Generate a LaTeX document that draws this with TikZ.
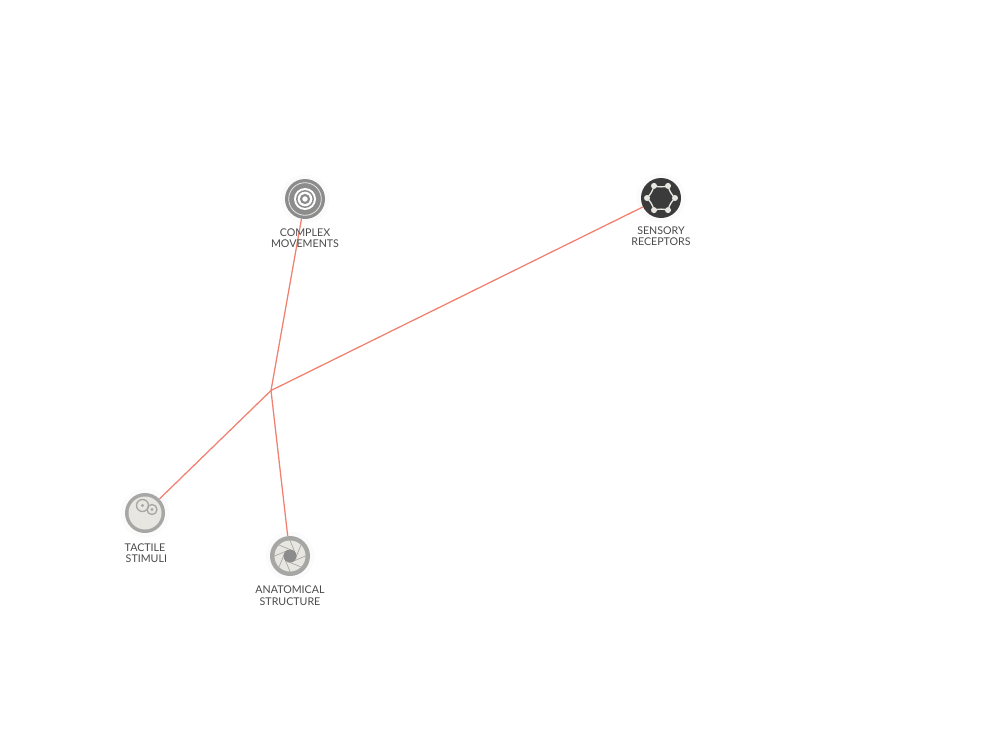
\documentclass[tikz,border=0pt]{standalone}
\usepackage{fontspec}
\setmainfont{Lato}
\usetikzlibrary{positioning}
\pgfdeclarelayer{halolayer}
\pgfdeclarelayer{edgelayer}
\pgfsetlayers{halolayer,edgelayer,main}
\definecolor{edgered}{HTML}{F0806F}
\definecolor{ringgray}{HTML}{A6A6A4}
\definecolor{darkgray}{HTML}{3B3B3C}
\definecolor{midgray}{HTML}{8C8C8C}
\definecolor{palegray}{HTML}{E7E6E1}
\definecolor{textgray}{HTML}{4A4A4A}
\tikzset{
  halo/.style={circle, fill=black!1.5, minimum size=36.75pt, inner sep=0pt},
  disc/.style={circle, minimum size=30pt, inner sep=0pt},
  caption/.style={align=center, text=textgray, inner sep=0pt, font=\fontsize{8}{8.6}\selectfont},
  edge/.style={draw=edgered, line width=0.95pt},
}
\begin{document}
\begin{tikzpicture}[x=0.75pt, y=-0.75pt]
  \useasboundingbox (0,0) rectangle (984,738);

  % Nodes
  \node[disc, fill=midgray]  (complex)    at (305,199) {};
  \node[disc, fill=darkgray] (sensory)    at (661,198) {};
  \node[disc, fill=ringgray] (tactile)    at (145,513) {};
  \node[disc, fill=ringgray] (anatomical) at (290,556) {};
  \coordinate (hub) at (271,390.5);

  % Labels
  \node[caption, below=6.6pt of complex]  (complexlabel)    {COMPLEX\\MOVEMENTS};
  \node[caption, below=6pt of sensory]    (sensorylabel)    {SENSORY\\RECEPTORS};
  \node[caption, below=7.4pt of tactile]  (tactilelabel)    {TACTILE\\\ STIMULI};
  \node[caption, below=7pt of anatomical] (anatomicallabel) {ANATOMICAL\\STRUCTURE};

  % Halos
  \begin{pgfonlayer}{halolayer}
    \foreach \name in {complex,sensory,tactile,anatomical}
      \node[halo] (\name halo) at (\name) {};
  \end{pgfonlayer}

  % Edges
  \begin{pgfonlayer}{edgelayer}
    \foreach \name in {complex,sensory,tactile,anatomical}
      \draw[edge] (hub) -- (\name);
  \end{pgfonlayer}

  % Rings
  \begin{scope}[shift={(complex.center)}]
    \draw[palegray, line width=0.6pt] (0,0) circle (16.3);
    \fill[white] (0,0) circle (11);
    \draw[midgray, line width=1.1pt] (0,0) circle (8.2);
    \draw[midgray, line width=1.6pt] (0,0) circle (4);
  \end{scope}

  % Hexagon
  \begin{scope}[shift={(sensory.center)}]
    \draw[palegray, line width=1pt] (0:14)
      \foreach \a in {60,120,...,360} {to[bend right=14] (\a:14)};
    \foreach \a in {0,60,...,300}
      \fill[palegray] (\a:14) circle (3);
  \end{scope}

  % Cells
  \begin{scope}[shift={(tactile.center)}]
    \fill[palegray] (0,0) circle (16.5);
    \foreach \cx/\cy/\r in {-2.5/-7.5/6, 7/-3.5/5} {
      \draw[ringgray, line width=1pt] (\cx,\cy) circle (\r);
      \fill[ringgray] (\cx,\cy) circle (1.6);
    }
  \end{scope}

  % Aperture
  \begin{scope}[shift={(anatomical.center)}]
    \fill[palegray] (0,0) circle (15.5);
    \foreach \a in {0,45,...,315}
      \draw[ringgray, line width=0.5pt] (\a:15.5) -- (\a+65:6);
    \fill[midgray] (0,0) circle (6.5);
  \end{scope}

\end{tikzpicture}
\end{document}
